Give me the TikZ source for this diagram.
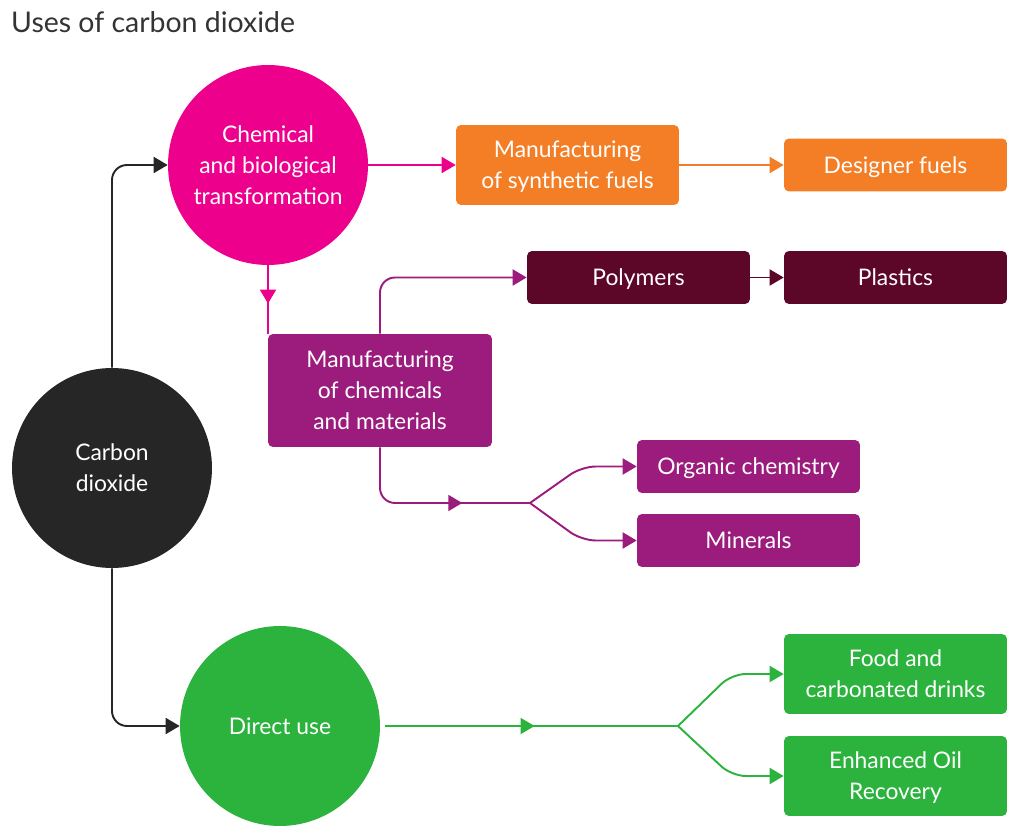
\documentclass[tikz,border=0pt]{standalone}
\usepackage{fontspec}
\setmainfont{Lato}
\usetikzlibrary{
  arrows.meta,
  calc,
  decorations.markings
}
\definecolor{sourcecolor}{RGB}{38, 38, 38}
\definecolor{chemcolor}{RGB}{236, 0, 140}
\definecolor{fuelcolor}{RGB}{244, 126, 37}
\definecolor{polycolor}{RGB}{92, 6, 40}
\definecolor{materialcolor}{RGB}{155, 28, 124}
\definecolor{directcolor}{RGB}{43, 179, 61}
\definecolor{titlecolor}{RGB}{51, 51, 51}
\tikzset{
nodetext/.style={
  align=center,
  font=\fontsize{13}{17.6}\selectfont,
  text=white
},
hubcircle/.style={
  circle,
  minimum size=4cm,
  inner sep=0pt,
  text depth=-1.5pt,
  nodetext
},
leafbox/.style={
  rounded corners=0.1cm,
  minimum width=4.46cm,
  minimum height=1.06cm,
  inner sep=2pt,
  text depth=-2.5pt,
  nodetext
},
tallbox/.style={
  leafbox,
  minimum height=1.6cm
},
flowarrow/.style={
  -{Triangle[length=0.28cm,width=0.32cm]},
  line width=1.1pt
},
midflow/.style={
  line width=1.1pt,
  postaction={decorate},
  decoration={markings,
    mark=at position #1 with {\arrow{Triangle[length=0.28cm,width=0.32cm]}}}
}
}

\begin{document}
\begin{tikzpicture}[x=0.02cm, y=-0.02cm]
  \useasboundingbox (0,0) rectangle (1024,837);

  \node[anchor=west, font=\fontsize{16.2}{19}\selectfont, text=titlecolor] (title) at (5,22) {Uses of carbon dioxide};

  % hubs
  \node[hubcircle, fill=sourcecolor] (co2) at (112,468) {Carbon\\dioxide};
  \node[hubcircle, fill=chemcolor] (chem) at (268,165) {Chemical\\and biological\\transformation};
  \node[hubcircle, fill=directcolor] (direct) at (280,726) {Direct use};

  % boxes
  \node[tallbox, fill=fuelcolor] (synth) at (567.5,165) {Manufacturing\\of synthetic fuels};
  \node[leafbox, fill=fuelcolor] (designer) at (895.5,165) {Designer fuels};
  \node[leafbox, fill=polycolor] (polymers) at (638.5,277.5) {Polymers};
  \node[leafbox, fill=polycolor] (plastics) at (895.5,277.5) {Plastics};
  \node[tallbox, fill=materialcolor, minimum width=4.48cm, minimum height=2.26cm] (chemmat) at (380,390.5) {Manufacturing\\of chemicals\\and materials};
  \node[leafbox, fill=materialcolor] (organic) at (748.5,466.5) {Organic chemistry};
  \node[leafbox, fill=materialcolor] (minerals) at (748.5,540.5) {Minerals};
  \node[tallbox, fill=directcolor] (food) at (895.5,674) {Food and\\carbonated drinks};
  \node[tallbox, fill=directcolor] (eor) at (895.5,776) {Enhanced Oil\\Recovery};

  \coordinate (pbranch) at (530,503);
  \coordinate (gbranch) at (678,726);

  % carbon dioxide
  \draw[flowarrow, sourcecolor, rounded corners=0.3cm] (co2.north) |- (chem.west);
  \draw[flowarrow, sourcecolor, rounded corners=0.3cm] (co2.south) |- (direct.west);

  % chemical and biological transformation
  \draw[flowarrow, chemcolor] (chem.east) -- (synth.west);
  \draw[midflow=0.56, chemcolor] (chem.south) -- (chem.south |- chemmat.north);
  \draw[flowarrow, fuelcolor] (synth.east) -- (designer.west);

  % chemicals and materials
  \draw[flowarrow, materialcolor, rounded corners=0.3cm] (chemmat.north) |- (polymers.west);
  \draw[flowarrow, polycolor] (polymers.east) -- (plastics.west);
  \draw[midflow=0.66, materialcolor, rounded corners=0.3cm] (chemmat.south) |- (pbranch);
  \draw[flowarrow, materialcolor, rounded corners=8pt] (pbranch) -- ($(organic.west)+(-55,0)$) -- (organic.west);
  \draw[flowarrow, materialcolor, rounded corners=8pt] (pbranch) -- ($(minerals.west)+(-55,0)$) -- (minerals.west);

  % direct use
  \draw[midflow=0.51, directcolor] ($(direct.east)+(5,0)$) -- (gbranch);
  \draw[flowarrow, directcolor, rounded corners=8pt] (gbranch) -- ($(food.west)+(-52,0)$) -- (food.west);
  \draw[flowarrow, directcolor, rounded corners=8pt] (gbranch) -- ($(eor.west)+(-52,0)$) -- (eor.west);
\end{tikzpicture}
\end{document}
